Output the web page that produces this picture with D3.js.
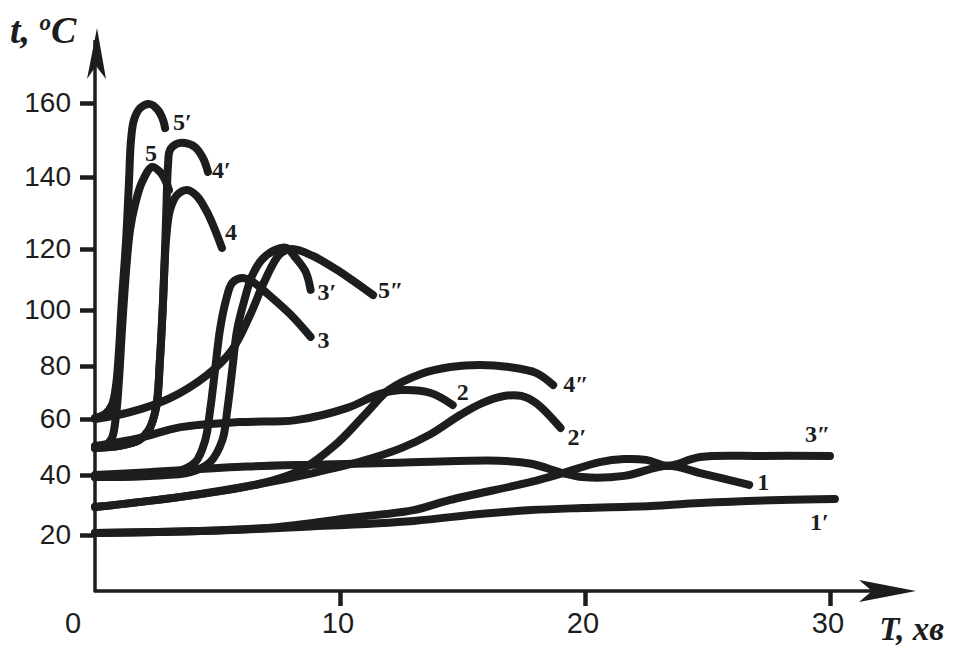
<!DOCTYPE html>
<html>
<head>
<meta charset="utf-8">
<script src="https://cdn.jsdelivr.net/npm/d3@7/dist/d3.min.js"></script>
<style>
  body { margin: 0; background: #fff; }
  svg { display: block; }
</style>
</head>
<body>
<svg id="chart" width="953" height="646"></svg>
<script>
// Axis ticks
const xTicks = [0, 10, 20, 30];
const yTicks = [20, 40, 60, 80, 100, 120, 140, 160];

// Heating curves: [T (min), t (°C)]
const curve1 = [[0,40],[2.2,41],[6.2,43],[8.9,43.7],[12.4,44.4],[16.5,45.1],[17.8,44],[19.1,40.7],[19.9,39.3],[21.6,39.7],[23.4,43.3],[24.7,40.7],[26.7,36.7]];
const curve1p = [[0,20.7],[4.3,21.3],[8.4,22.7],[13,24.7],[15.7,27],[17.8,28.3],[19.9,29],[22.7,29.7],[24.7,30.7],[28,31.7],[30.2,32]];
const curve2 = [[0,50.4],[1.8,53.2],[3.5,57.1],[5.9,58.9],[8.2,59.6],[10.3,64.2],[11.6,69.4],[12.5,70.9],[13.7,69.8],[14.6,65.3]];
const curve2p = [[0,29.3],[3.5,32.7],[6.7,37],[8.9,40.7],[10.9,45],[12.5,49.6],[13.7,54.6],[14.9,61.5],[15.8,66],[16.7,68.7],[17.4,68.7],[18,66],[19,56.8]];
const curve3 = [[0,39.3],[1.8,39.7],[3.3,41],[4.1,44.6],[4.5,52.5],[4.7,63.4],[4.9,78.5],[5.1,92.9],[5.35,103.3],[5.6,108.9],[6,110.5],[6.5,108.9],[7.1,104.9],[8,98.2],[8.8,90.4]];
const curve3p = [[0,39.3],[2.2,39.7],[3.9,41],[4.7,44.6],[5.2,52.5],[5.4,63.4],[5.6,78.5],[5.8,92.9],[6.1,103.3],[6.4,111],[6.8,116.4],[7.35,119.7],[7.8,120.3],[8.2,117],[8.6,112.5],[8.8,106.6]];
const curve3pp = [[0,20.7],[4.3,21.3],[7.5,22.7],[10.4,25.7],[13,28.3],[14.5,31.7],[17.8,37.7],[19.1,40.7],[20.6,44.6],[21.6,45.7],[22.5,45.4],[23.4,43.3],[24.7,46.4],[27.2,46.8],[30,46.8]];
const curve4 = [[0,49.6],[1,50.4],[1.8,52.5],[2.2,56.1],[2.5,64.6],[2.65,82.1],[2.78,103.3],[2.9,122.5],[3.06,130.8],[3.35,135],[3.76,136.4],[4.16,134.7],[4.57,130.3],[4.9,125.3],[5.18,120.3]];
const curve4p = [[0,49.6],[1,50.4],[1.8,52.5],[2.2,56.1],[2.5,64.6],[2.65,82.1],[2.78,103.3],[2.9,128.1],[2.98,143.2],[3.06,147.3],[3.31,148.9],[3.67,149.2],[4.08,148.1],[4.41,145.1],[4.61,141.4]];
const curve4pp = [[0,29.3],[3.5,32.7],[6.7,37],[8.4,41.8],[9.8,50.7],[11,61.5],[12,71],[13.3,77],[14.5,79.6],[15.7,80.4],[16.9,79.6],[18,77.4],[18.7,72.8]];
const curve5 = [[0,49.6],[0.41,50.4],[0.69,53.2],[0.86,61.5],[0.98,75],[1.1,92.9],[1.27,113.1],[1.43,125.3],[1.63,132.2],[1.92,138.6],[2.33,142.7],[2.65,141.4],[2.86,139.2],[3.02,136.4]];
const curve5p = [[0,60.4],[0.41,61.9],[0.69,65.3],[0.86,72.8],[0.98,85.7],[1.1,103.3],[1.27,122.5],[1.39,139.2],[1.47,150],[1.59,155.4],[1.84,158.6],[2.24,159.7],[2.57,158.1],[2.78,155.4],[2.86,153.2]];
const curve5pp = [[0,60],[1.43,62.6],[3.06,67.9],[4.57,76.6],[5.59,85.7],[6.33,98.2],[6.94,109.8],[7.55,118.4],[8.04,120],[8.9,117.7],[10,112.5],[11.35,104.9]];

// Series in drawing order with their labels
const seriesData = [curve1, curve1p, curve2, curve2p, curve3, curve3p, curve3pp, curve4, curve4p, curve4pp, curve5, curve5p, curve5pp];
const seriesLabels = ["1", "1\u2032", "2", "2\u2032", "3", "3\u2032", "3\u2033", "4", "4\u2032", "4\u2033", "5", "5\u2032", "5\u2033"];

// Label offsets from each curve's last point (px)
const labelOffset = {
  "1": [8, 5], "1\u2032": [-25, 31], "2": [4, -5], "2\u2032": [7, 17], "3": [7, 11],
  "3\u2032": [7, 10], "3\u2033": [-25, -14], "4": [3, -8], "4\u2032": [4, 6], "4\u2033": [10, 7],
  "5": [-24, -29], "5\u2032": [8, 2], "5\u2033": [5, 3]
};

const svg = d3.select("#chart");
const ink = "#1d1d1d";

const x = d3.scaleLinear().domain([0, 30]).range([95, 830]);
// hand-drawn ordinate: each 20° step has its own length
const y = d3.scaleLinear().domain(yTicks).range([535, 475, 419, 366, 310, 249, 177, 103]);

const x0 = 95, yBase = 591;

// axes lines
svg.append("line").attr("x1", x0).attr("y1", yBase).attr("x2", 905).attr("y2", yBase)
  .attr("stroke", ink).attr("stroke-width", 3.5);
svg.append("line").attr("x1", x0).attr("y1", yBase + 1.5).attr("x2", x0).attr("y2", 40)
  .attr("stroke", ink).attr("stroke-width", 3.5);

// arrow heads
svg.append("path").attr("d", "M97,28 L106,79 L96,66 L87,79 Z").attr("fill", ink);
svg.append("path").attr("d", "M916,591 L859,580 L872,591 L859,602 Z").attr("fill", ink);

// y axis ticks and labels
const yAxis = d3.axisLeft(y).tickValues(yTicks).tickSize(15).tickPadding(9).tickFormat(d3.format("d"));
const gy = svg.append("g").attr("transform", `translate(${x0},0)`).call(yAxis);
gy.select(".domain").remove();
gy.selectAll(".tick line").attr("stroke", ink).attr("stroke-width", 4.5);
gy.selectAll(".tick text").attr("fill", ink)
  .style("font-family", "'Liberation Sans', Arial, sans-serif").style("font-size", "28px");

// x axis ticks and labels
const xAxis = d3.axisBottom(x).tickValues(xTicks.slice(1)).tickSize(15).tickFormat(d3.format("d"));
const gx = svg.append("g").attr("transform", `translate(0,${yBase})`).call(xAxis);
gx.select(".domain").remove();
gx.selectAll(".tick line").attr("stroke", ink).attr("stroke-width", 4.5);
gx.selectAll(".tick text").remove();
svg.selectAll(".xlab").data(xTicks).enter().append("text")
  .attr("class", "xlab")
  .attr("x", d => d === 0 ? 73 : x(d) - 2).attr("y", 633)
  .attr("text-anchor", "middle").attr("fill", ink)
  .style("font-family", "'Liberation Sans', Arial, sans-serif").style("font-size", "29px")
  .text(d => d);

// axis titles
const title = svg.append("text").attr("x", 10).attr("y", 43).attr("fill", ink)
  .style("font-family", "'Liberation Serif', 'Times New Roman', serif")
  .style("font-size", "38px").style("font-weight", "bold").style("font-style", "italic");
title.append("tspan").text("t, ");
title.append("tspan").text("o").attr("dy", -13).style("font-size", "23px");
title.append("tspan").text("C").attr("dy", 13);

svg.append("text").attr("x", 944).attr("y", 640).attr("text-anchor", "end").attr("fill", ink)
  .style("font-family", "'Liberation Serif', 'Times New Roman', serif")
  .style("font-size", "33px").style("font-weight", "bold").style("font-style", "italic")
  .text("T, хв");

// curves
const line = d3.line().x(d => x(d[0])).y(d => y(d[1])).curve(d3.curveCatmullRom.alpha(0.5));
svg.append("g").selectAll("path").data(seriesData).enter().append("path")
  .attr("d", line).attr("fill", "none").attr("stroke", ink)
  .attr("stroke-width", 8).attr("stroke-linecap", "round").attr("stroke-linejoin", "round");

// curve labels
svg.append("g").selectAll("text").data(seriesData).enter().append("text")
  .attr("x", (d, i) => x(d[d.length - 1][0]) + labelOffset[seriesLabels[i]][0])
  .attr("y", (d, i) => y(d[d.length - 1][1]) + labelOffset[seriesLabels[i]][1])
  .attr("fill", ink)
  .style("font-family", "'Liberation Serif', 'Times New Roman', serif")
  .style("font-size", "24px").style("font-weight", "bold")
  .text((d, i) => seriesLabels[i]);
</script>
</body>
</html>
